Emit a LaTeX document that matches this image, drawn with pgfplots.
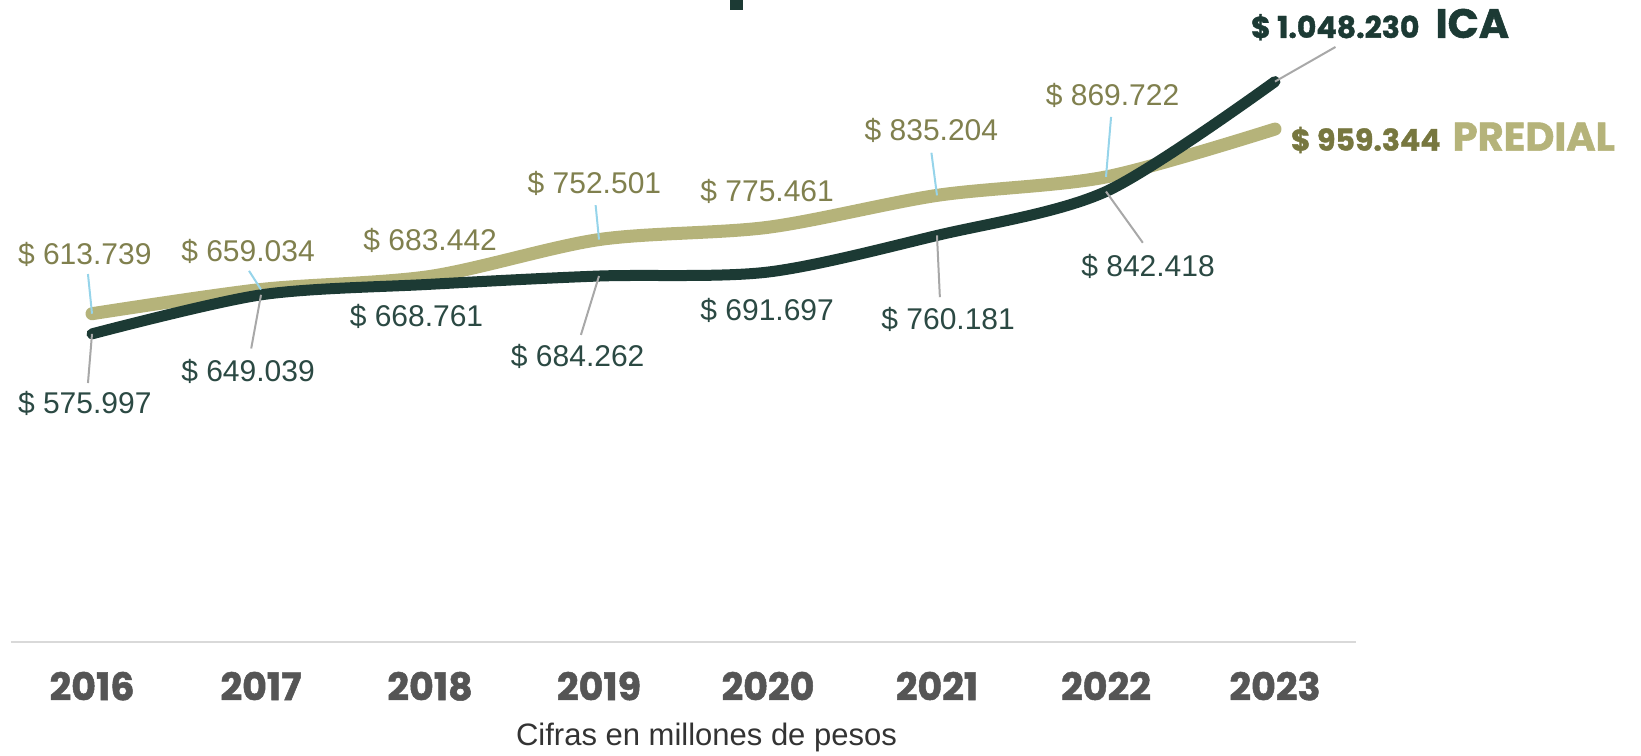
\documentclass[border=0pt]{standalone}
\usepackage{pgfplots}
\pgfplotsset{compat=1.18}
\usepackage{pgfplotstable}
\usepackage{fontspec}
\setmainfont{Liberation Sans}
\newfontfamily\heavy{Poppins}[BoldFeatures={FakeBold=1.3}]

\definecolor{icaline}{HTML}{1C3A34}
\definecolor{icatext}{HTML}{2B4943}
\definecolor{predline}{HTML}{B5B37A}
\definecolor{predtext}{HTML}{80804E}
\definecolor{preddark}{HTML}{77773F}
\definecolor{leadblue}{HTML}{96D4EA}
\definecolor{leadgray}{HTML}{A8A8A8}
\definecolor{yeargray}{HTML}{555555}

% recaudo anual, millones de pesos
\pgfplotstableread{
x ica predial
0 575.997 613.739
1 649.039 659.034
2 668.761 683.442
3 684.262 752.501
4 691.697 775.461
5 760.181 835.204
6 842.418 869.722
7 1048.230 959.344
}\datos

\tikzset{
  lp/.style={font=\fontsize{15}{15}\selectfont, text=predtext, inner sep=0pt},
  li/.style={font=\fontsize{15}{15}\selectfont, text=icatext, inner sep=0pt},
  lb/.style={leadblue, line width=1pt},
  lg/.style={leadgray, line width=1pt},
}

\begin{document}
\begin{tikzpicture}
\useasboundingbox (-5.45pt,-56.7pt) rectangle (815.05pt,320.8pt);
% resto del titulo, cortado arriba
\fill[icaline] (359.5pt,315.8pt) rectangle (366pt,320.8pt);
\begin{axis}[
  at={(0,0)}, anchor=south west,
  scale only axis, width=672.6pt, height=307.2pt,
  xmin=-0.48, xmax=7.48, ymin=0, ymax=1150,
  axis x line=bottom, axis y line=none,
  x axis line style={-, draw=black!15, line width=1pt},
  xtick={0,...,7},
  xticklabels={2016,2017,2018,2019,2020,2021,2022,2023},
  major tick length=0pt,
  xticklabel style={anchor=base, yshift=-29.3pt,
    font=\heavy\bfseries\fontsize{19}{19}\selectfont, text=yeargray},
  clip=false,
]
\addplot[predline, line width=6.5pt, smooth, line cap=round, mark=none]
  table[x=x, y=predial] {\datos};
\addplot[icaline, line width=5.5pt, smooth, line cap=round, mark=none]
  table[x=x, y=ica] {\datos};

% PREDIAL
\draw[lb] (axis cs:-0.024,688) -- (axis cs:0,613.739);
\draw[lb] (axis cs:0.929,694) -- (axis cs:1,659.034);
\draw[lb] (axis cs:2.98,817) -- (axis cs:3,752.501);
\draw[lb] (axis cs:4.967,915) -- (axis cs:5,835.204);
\draw[lb] (axis cs:6.03,982) -- (axis cs:6,869.722);
\node[lp] at (axis cs:-0.043,725) {\$ 613.739};
\node[lp] at (axis cs:0.923,731) {\$ 659.034};
\node[lp] at (axis cs:2.001,750) {\$ 683.442};
\node[lp] at (axis cs:2.973,858) {\$ 752.501};
\node[lp] at (axis cs:3.995,842.5) {\$ 775.461};
\node[lp] at (axis cs:4.967,956) {\$ 835.204};
\node[lp] at (axis cs:6.039,1023) {\$ 869.722};

% ICA
\draw[lg] (axis cs:0,575.997) -- (axis cs:-0.024,484);
\draw[lg] (axis cs:1,649.039) -- (axis cs:0.942,548.7);
\draw[lg] (axis cs:3,684.262) -- (axis cs:2.893,574);
\draw[lg] (axis cs:5,760.181) -- (axis cs:5.017,644.6);
\draw[lg] (axis cs:6,842.418) -- (axis cs:6.218,746.5);
\draw[lg] (axis cs:7,1048.23) -- (axis cs:7.358,1113);
\node[li] at (axis cs:-0.043,445) {\$ 575.997};
\node[li] at (axis cs:0.923,505.5) {\$ 649.039};
\node[li] at (axis cs:1.92,609) {\$ 668.761};
\node[li] at (axis cs:2.874,533) {\$ 684.262};
\node[li] at (axis cs:3.995,619) {\$ 691.697};
\node[li] at (axis cs:5.066,603.5) {\$ 760.181};
\node[li] at (axis cs:6.249,703) {\$ 842.418};

% etiquetas finales
\node[anchor=base west, inner sep=0pt] at (axis cs:6.856,1130)
  {\heavy\bfseries\color{icaline}\fontsize{15}{15}\selectfont \$ 1.048.230\hspace{8pt}\fontsize{20.5}{20.5}\selectfont ICA};
\node[anchor=base west, inner sep=0pt] at (axis cs:7.092,919)
  {\heavy\bfseries\color{preddark}\fontsize{15}{15}\selectfont \$ 959.344\hspace{6pt}\color{predline}\fontsize{20}{20}\selectfont PREDIAL};

\node[anchor=base, inner sep=0pt, font=\fontsize{15.5}{15.5}\selectfont, text=black!80]
  at (axis cs:3.636,-194) {Cifras en millones de pesos};
\end{axis}
\end{tikzpicture}
\end{document}
